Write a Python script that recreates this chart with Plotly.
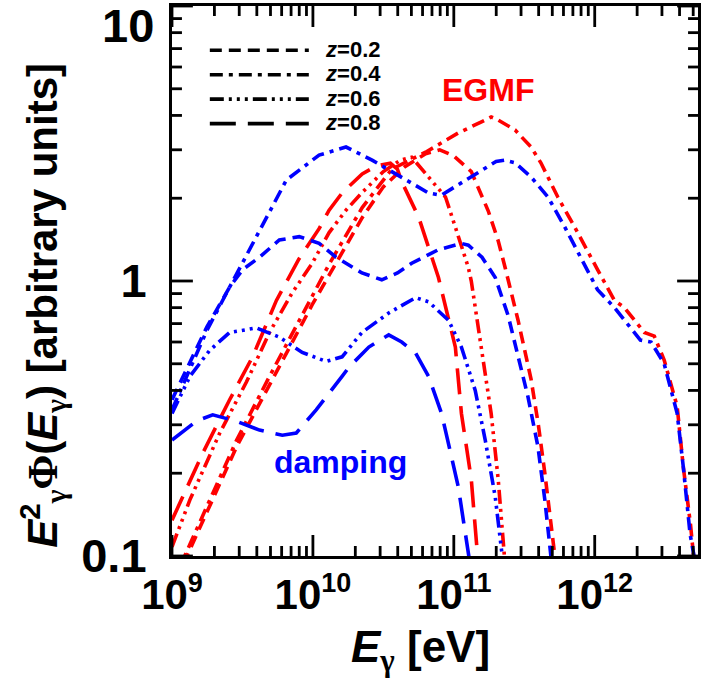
import math
import plotly.graph_objects as go

# ---------------- data (log10 of photon energy in eV, and E^2 Phi) ----------------
# damping (blue)
logE_damp_z02 = [9.0, 9.12, 9.247, 9.409, 9.501, 9.621, 9.762, 9.903, 10.044, 10.164, 10.348, 10.489, 10.6, 10.701,
                 10.891, 11.054, 11.103, 11.2, 11.294, 11.385, 11.456, 11.526, 11.597, 11.646, 11.689, 11.71]
flux_damp_z02 = [0.37, 0.5, 0.68, 0.95, 1.1, 1.22, 1.41, 1.45, 1.37, 1.22, 1.07, 1.01, 1.07, 1.16,
                 1.3, 1.37, 1.35, 1.22, 1.03, 0.75, 0.53, 0.38, 0.25, 0.16, 0.1, 0.08]

logE_damp_z04 = [9.0, 9.12, 9.247, 9.409, 9.621, 9.812, 10.044, 10.235, 10.42, 10.63, 10.82, 10.91, 11.124, 11.3,
                 11.36, 11.435, 11.548, 11.668, 11.788, 11.9, 12.02, 12.14, 12.282, 12.324, 12.4, 12.493, 12.585,
                 12.629, 12.677, 12.705, 12.72]
flux_damp_z04 = [0.34, 0.47, 0.66, 0.95, 1.53, 2.33, 2.87, 3.07, 2.75, 2.39, 2.09, 2.05, 2.39, 2.72,
                 2.75, 2.69, 2.39, 2.02, 1.57, 1.22, 0.93, 0.8, 0.65, 0.61, 0.6, 0.5, 0.33,
                 0.21, 0.12, 0.1, 0.08]

logE_damp_z06 = [9.0, 9.127, 9.268, 9.409, 9.6, 9.762, 9.924, 10.094, 10.207, 10.348, 10.538, 10.729, 10.821,
                 10.962, 11.054, 11.152, 11.223, 11.294, 11.336, 11.36]
flux_damp_z06 = [0.33, 0.45, 0.56, 0.65, 0.675, 0.625, 0.55, 0.51, 0.53, 0.65, 0.765, 0.87, 0.84,
                 0.72, 0.575, 0.4, 0.264, 0.164, 0.108, 0.085]

logE_damp_z08 = [9.0, 9.176, 9.289, 9.45, 9.621, 9.783, 9.882, 10.023, 10.207, 10.256, 10.397, 10.538, 10.63,
                 10.729, 10.821, 10.913, 10.983, 11.032, 11.054, 11.103, 11.12]
flux_damp_z08 = [0.264, 0.31, 0.326, 0.31, 0.287, 0.275, 0.28, 0.34, 0.45, 0.486, 0.575, 0.637, 0.6,
                 0.547, 0.45, 0.33, 0.23, 0.178, 0.15, 0.105, 0.09]

# EGMF (red)
logE_egmf_z02 = [9.0, 9.106, 9.459, 9.692, 9.995, 10.115, 10.35, 10.5, 10.65, 10.8, 10.9, 11.0, 11.124, 11.244,
                 11.315, 11.364, 11.456, 11.548, 11.6, 11.646, 11.69, 11.717, 11.74]
flux_egmf_z02 = [0.082, 0.1, 0.25, 0.42, 0.82, 1.05, 1.7, 2.2, 2.6, 2.9, 3.0, 2.85, 2.5, 1.8,
                 1.4, 1.12, 0.72, 0.44, 0.3, 0.2, 0.13, 0.1, 0.08]

logE_egmf_z04 = [9.0, 9.09, 9.459, 9.692, 9.995, 10.115, 10.35, 10.56, 10.8, 11.03, 11.2, 11.265, 11.315, 11.435,
                 11.548, 11.618, 11.738, 11.858, 12.02, 12.14, 12.211, 12.352, 12.423, 12.493, 12.585, 12.629,
                 12.68, 12.705, 12.72]
flux_egmf_z04 = [0.088, 0.1, 0.264, 0.45, 0.88, 1.15, 1.85, 2.55, 2.94, 3.45, 3.8, 3.95, 3.85, 3.54,
                 3.07, 2.69, 2.02, 1.57, 1.1, 0.85, 0.8, 0.65, 0.63, 0.516, 0.35, 0.21,
                 0.13, 0.1, 0.08]

logE_egmf_z06 = [9.0, 9.127, 9.339, 9.529, 9.692, 9.85, 9.995, 10.115, 10.235, 10.35, 10.5, 10.62, 10.701,
                 10.821, 10.941, 11.011, 11.103, 11.124, 11.195, 11.265, 11.315, 11.35, 11.37]
flux_egmf_z06 = [0.108, 0.16, 0.28, 0.43, 0.65, 0.9, 1.16, 1.5, 1.81, 2.1, 2.5, 2.75, 2.82,
                 2.39, 2.02, 1.57, 1.12, 1.0, 0.575, 0.33, 0.19, 0.105, 0.085]

logE_egmf_z08 = [9.0, 9.219, 9.409, 9.572, 9.741, 9.9, 10.044, 10.115, 10.207, 10.35, 10.45, 10.55, 10.6, 10.63,
                 10.75, 10.891, 11.011, 11.054, 11.124, 11.16, 11.18]
flux_egmf_z08 = [0.135, 0.237, 0.37, 0.53, 0.85, 1.2, 1.55, 1.81, 2.09, 2.45, 2.62, 2.68, 2.55, 2.3,
                 1.71, 1.03, 0.575, 0.33, 0.19, 0.105, 0.085]

redshift_labels = ["0.2", "0.4", "0.6", "0.8"]
x_decades = [9, 10, 11, 12]
y_decades = [-1, 0, 1]
y_ticktext = ["0.1&nbsp;", "1&nbsp;", ""]      # the top label "10" is placed below as an annotation
top_label = "10"

# ---------------- styling ----------------
BLUE = "#0000FF"
RED = "#FF0000"
FONT = "Liberation Sans, Arial, sans-serif"
SERIF = "Liberation Serif"
dash_styles = [
    "12px,7px",                                     # z=0.2 dashed
    "13px,6px,4px,6px",                             # z=0.4 dash-dot
    "14px,5px,3px,5px,3px,5px,3px,5px",             # z=0.6 dash-dot-dot-dot
    "26px,12px",                                    # z=0.8 long dash
]
LW = 3.6
XRANGE = [9, 12.733]
YRANGE = [-1, 1]
PLOT_W, PLOT_H = 529, 550
MAJOR_LEN, MINOR_LEN, TICK_W = 21, 10, 2.8

x_major = [10.0 ** e for e in x_decades]
y_major = [10.0 ** e for e in y_decades]

fig = go.Figure()

damp_sets = [(logE_damp_z02, flux_damp_z02), (logE_damp_z04, flux_damp_z04),
             (logE_damp_z06, flux_damp_z06), (logE_damp_z08, flux_damp_z08)]
egmf_sets = [(logE_egmf_z02, flux_egmf_z02), (logE_egmf_z04, flux_egmf_z04),
             (logE_egmf_z06, flux_egmf_z06), (logE_egmf_z08, flux_egmf_z08)]

for (lx, fy), d, z in zip(egmf_sets, dash_styles, redshift_labels):
    fig.add_trace(go.Scatter(x=[10 ** v for v in lx], y=fy, mode="lines", showlegend=False,
                             line=dict(color=RED, width=LW, dash=d), name=f"EGMF z={z}"))
for (lx, fy), d, z in zip(damp_sets, dash_styles, redshift_labels):
    fig.add_trace(go.Scatter(x=[10 ** v for v in lx], y=fy, mode="lines", showlegend=False,
                             line=dict(color=BLUE, width=LW, dash=d), name=f"damping z={z}"))

# legend entries (black line styles)
for d, z in zip(dash_styles, redshift_labels):
    fig.add_trace(go.Scatter(x=[None], y=[None], mode="lines",
                             line=dict(color="black", width=LW, dash=d),
                             name=f"<span style=\"font-size:22px\">&nbsp;&nbsp;<i>z</i>={z}</span>"))

# ---- inside tick marks on all four sides (major decades + minor 2..9) ----
tick_line = dict(color="black", width=TICK_W)
for e in x_decades:
    for m in range(1, 10):
        lx = e + math.log10(m)
        if lx < XRANGE[0] or lx > XRANGE[1]:
            continue
        xv = m * 10.0 ** e
        frac = (MAJOR_LEN if m == 1 else MINOR_LEN) / PLOT_H
        fig.add_shape(type="line", xref="x", yref="paper", x0=xv, x1=xv, y0=0, y1=frac,
                      line=tick_line, layer="above")
        fig.add_shape(type="line", xref="x", yref="paper", x0=xv, x1=xv, y0=1, y1=1 - frac,
                      line=tick_line, layer="above")
for e in y_decades:
    for m in range(1, 10):
        ly = e + math.log10(m)
        if ly < YRANGE[0] or ly > YRANGE[1]:
            continue
        yv = m * 10.0 ** e
        frac = (MAJOR_LEN if m == 1 else MINOR_LEN) / PLOT_W
        fig.add_shape(type="line", xref="paper", yref="y", x0=0, x1=frac, y0=yv, y1=yv,
                      line=tick_line, layer="above")
        fig.add_shape(type="line", xref="paper", yref="y", x0=1, x1=1 - frac, y0=yv, y1=yv,
                      line=tick_line, layer="above")

base = dict(type="log", showgrid=False, ticks="", mirror=True,
            showline=True, linecolor="#000000", linewidth=3)

fig.update_layout(
    xaxis=dict(
        **base,
        range=XRANGE,
        tickmode="array", tickvals=x_major,
        ticktext=[f"10<sup><span style=\"font-size:27px\">{e}</span></sup>" for e in x_decades],
        tickfont=dict(family=FONT, size=42, color="black", weight="bold"),
    ),
    yaxis=dict(
        **base,
        range=YRANGE,
        tickmode="array", tickvals=y_major, ticktext=y_ticktext,
        tickfont=dict(family=FONT, size=47, color="black", weight="bold"),
    ),
)

fig.add_annotation(text=top_label, xref="paper", yref="paper", x=0, y=1, xanchor="right", yanchor="middle",
                   xshift=-16, yshift=-19, height=40, valign="middle", showarrow=False,
                   font=dict(family=FONT, size=47, color="black", weight="bold"))

fig.add_annotation(
    text=f"<i>E</i><sub><span style=\"font-family:{SERIF}\">γ</span></sub> [eV]",
    xref="paper", yref="paper", x=0.4726, y=-0.17, xanchor="center", yanchor="middle",
    showarrow=False, font=dict(family=FONT, size=44, color="black", weight="bold"))
fig.add_annotation(
    text=(f"<i>E</i><sup>2</sup><sub><span style=\"font-family:{SERIF}\">γ</span></sub>"
          f"<span style=\"font-family:{SERIF}\">Φ</span>(<i>E</i><sub><span style=\"font-family:{SERIF}\">γ</span></sub>)"
          " [arbitrary units]"),
    xref="paper", yref="paper", x=-0.2457, y=0.4564, xanchor="center", yanchor="middle",
    textangle=-90, showarrow=False, font=dict(family=FONT, size=42, color="black", weight="bold"))

fig.add_annotation(text="EGMF", xref="paper", yref="paper", x=(490 - 172) / 529, y=1 - (90 - 6) / 550,
                   xanchor="center", yanchor="middle", showarrow=False,
                   font=dict(family=FONT, size=32, color=RED, weight="bold"))
fig.add_annotation(text="damping", xref="paper", yref="paper", x=(341 - 172) / 529, y=1 - (462 - 6) / 550,
                   xanchor="center", yanchor="middle", showarrow=False,
                   font=dict(family=FONT, size=32, color=BLUE, weight="bold"))

fig.update_layout(
    width=702, height=691,
    margin=dict(l=172, r=1, t=6, b=135),
    paper_bgcolor="white", plot_bgcolor="white",
    showlegend=True,
    legend=dict(x=(205 - 172) / 529, y=1 - (33 - 6) / 550, xanchor="left", yanchor="top",
                bgcolor="rgba(0,0,0,0)", borderwidth=0, itemwidth=99, tracegroupgap=0,
                font=dict(family=FONT, size=16.5, color="black", weight="bold")),
)

fig.write_html("out.html")
